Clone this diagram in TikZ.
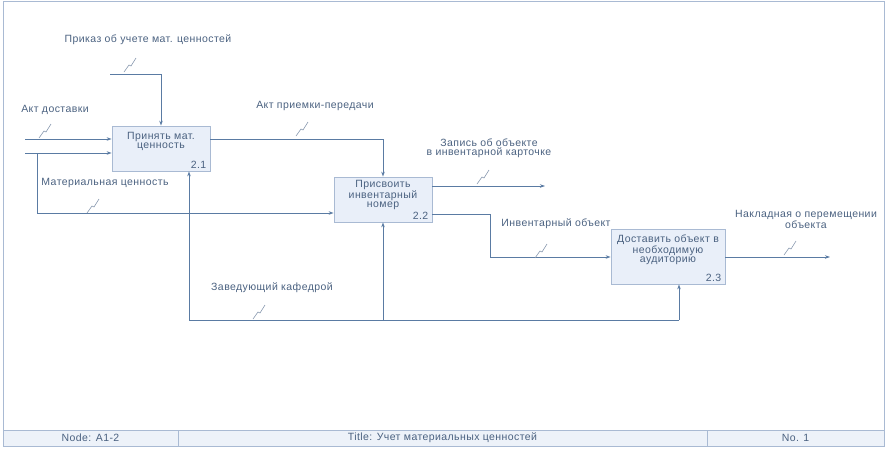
\documentclass[tikz,border=0pt]{standalone}
\usepackage{fontspec}
\setmainfont{Liberation Sans}[LetterSpace=4]
\usetikzlibrary{arrows.meta,positioning}
\definecolor{ln}{HTML}{5A7BA3}
\definecolor{tx}{HTML}{4A6180}
\definecolor{bxfill}{HTML}{E9EFF9}
\definecolor{bxdraw}{HTML}{A9BAD3}
\definecolor{ft}{HTML}{EDF2F9}
\definecolor{sqc}{HTML}{8A9AB0}
\tikzset{
  fn/.style={font=\fontsize{10.5}{9.5}\selectfont},
  lbl/.style={fn,text=tx,align=center,inner sep=0pt},
  act/.style={draw=bxdraw,fill=bxfill,line width=0.8pt,inner sep=0pt,minimum width=98pt,minimum height=45pt},
  acttext/.style={fn,text=tx,align=center,inner sep=0pt,anchor=north},
  num/.style={fn,text=tx,inner sep=0pt,anchor=south east},
  arr/.style={draw=ln,line width=0.8pt,-{Stealth[length=5pt,width=3.5pt]}},
  ar/.style={draw=ln,line width=0.8pt},
  sq/.style={draw=sqc,line width=0.6pt},
  squiggle/.pic={\draw[sq] (-6,8)--(-1,1)--(1,2)--(6,-6);},
  cell/.style={draw=bxdraw,fill=ft,line width=0.7pt,inner sep=0pt,minimum height=16pt,fn,text=tx}
}
\begin{document}
\begin{tikzpicture}[x=1pt,y=-1pt]
\useasboundingbox (0,0) rectangle (887,448);
% frame
\draw[draw=bxdraw,line width=0.8pt] (3,1) rectangle (884,446);
% footer
\node[cell,minimum width=175pt] (f1) at (90.5,438) {Node: A1-2};
\node[cell,minimum width=529pt] (f2) at (442.5,438) {Title: Учет материальных ценностей};
\node[cell,minimum width=177pt] (f3) at (795.5,438) {No. 1};
% activity boxes
\node[act] (b1) at (161,148.5) {};
\node[acttext] at ([yshift=-6pt]b1.north) {Принять мат.\\ценность};
\node[num] at ([xshift=-4pt,yshift=3pt]b1.south east) {2.1};
\node[act] (b2) at (383,199.5) {};
\node[acttext] at ([yshift=-3pt]b2.north) {Присвоить\\инвентарный\\номер};
\node[num] at ([xshift=-4pt,yshift=3pt]b2.south east) {2.2};
\node[act,minimum width=114pt,minimum height=55pt] (b3) at (668,256.5) {};
\node[acttext] at ([yshift=-6pt]b3.north) {Доставить объект в\\необходимую\\аудиторию};
\node[num] at ([xshift=-4pt,yshift=3pt]b3.south east) {2.3};
% free ends
\coordinate (c0) at (110,74);
\coordinate (i1) at (25,139);
\coordinate (i2) at (25,153);
\coordinate (o22) at (545,186);
\coordinate (o3) at (830,257);
\coordinate (mc) at (189,320);
\coordinate (me) at (679,320);
% control 2.1
\draw[arr] (c0) -- (161,74) -- (b1.north);
\node[lbl] (t0) at (148,40) {Приказ об учете мат. ценностей};
\pic at (130,64) {squiggle};
% inputs 2.1
\draw[arr] (i1) -- (i1 -| b1.west);
\node[lbl] (t1) at (55,110) {Акт доставки};
\pic at (45,130) {squiggle};
\draw[arr] (i2) -- (i2 -| b1.west);
\draw[arr] (37,153) -- (37,213) -- (b2.west |- 0,213);
\node[lbl] (t2) at (105,183) {Материальная ценность};
\pic at (93,205) {squiggle};
% output 2.1 -> control 2.2
\draw[arr] (b1.east |- 0,139) -- (383,139) -- (b2.north);
\node[lbl] (t3) at (315,106) {Акт приемки-передачи};
\pic at (302,128) {squiggle};
% outputs 2.2
\draw[arr] (b2.east |- o22) -- (o22);
\node[lbl] (t4) at (489,148) {Запись об объекте\\в инвентарной карточке};
\pic at (483,176) {squiggle};
\draw[arr] (b2.east |- 0,214) -- (490,214) -- (490,257) -- (b3.west |- 0,257);
\node[lbl] (t5) at (556,224) {Инвентарный объект};
\pic at (541,250) {squiggle};
% output 2.3
\draw[arr] (b3.east |- o3) -- (o3);
\node[lbl] (t6) at (806,219) {Накладная о перемещении\\объекта};
\pic at (790,247) {squiggle};
% mechanism
\draw[ar] (mc) -- (me);
\draw[arr] (mc) -- (mc |- b1.south);
\draw[arr] (b2.south |- mc) -- (b2.south);
\draw[arr] (me) -- (me |- b3.south);
\node[lbl] (t7) at (272,288) {Заведующий кафедрой};
\pic at (259,311) {squiggle};
\end{tikzpicture}
\end{document}
